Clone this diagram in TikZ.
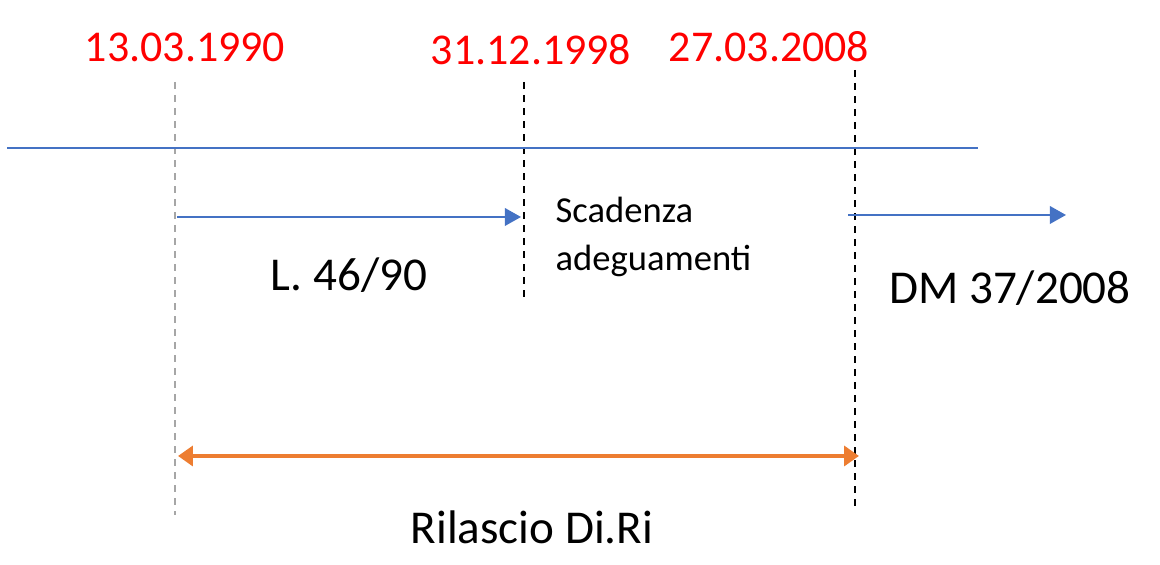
\documentclass[tikz,border=0pt]{standalone}
\usepackage{fontspec}
\setmainfont{Carlito}
\usetikzlibrary{arrows.meta}
\definecolor{blueline}{HTML}{4472C4}
\definecolor{orangeline}{HTML}{ED7D31}
\definecolor{datered}{HTML}{FF0000}

\begin{document}
\begin{tikzpicture}[x=0.01cm,y=-0.01cm,
  date/.style={text=datered,font=\fontsize{12.5}{14}\selectfont,inner sep=0pt},
  label/.style={font=\fontsize{13.4}{15}\selectfont,inner sep=0pt},
  small/.style={font=\fontsize{10.4}{13.4}\selectfont,inner sep=0pt,align=left},
  mark line/.style={line width=0.6pt,dash pattern=on 2pt off 1.7pt}]
\useasboundingbox (0,0) rectangle (1160,565);

\node[date] (d1) at (185,47) {13.03.1990};
\node[date] (d2) at (531,50) {31.12.1998};
\node[date] (d3) at (769,47) {27.03.2008};

\coordinate (t1) at (175,82);  \coordinate (b1) at (175,515);
\coordinate (t2) at (524,82);  \coordinate (b2) at (524,300);
\coordinate (t3) at (855,70);  \coordinate (b3) at (855,508);
\draw[mark line,gray!70] (t1) -- (b1);
\draw[mark line,black] (t2) -- (b2);
\draw[mark line,black] (t3) -- (b3);

\coordinate (l0) at (7,148); \coordinate (l1) at (978,148);
\draw[blueline,line width=0.6pt] (l0) -- (l1);

\coordinate (a0) at (177,217); \coordinate (a1) at (521,217);
\draw[blueline,line width=0.6pt,-{Triangle[length=4.6pt,width=5pt]}] (a0) -- (a1);
\coordinate (c0) at (848,215); \coordinate (c1) at (1066,215);
\draw[blueline,line width=0.6pt,-{Triangle[length=4.6pt,width=5pt]}] (c0) -- (c1);

\node[label] (law) at (349,275) {L. 46/90};
\node[small,anchor=west] (due) at (555,237) {Scadenza\\adeguamenti};
\node[label] (dm) at (1010,288) {DM 37/2008};

\coordinate (o0) at (178,456); \coordinate (o1) at (859,456);
\draw[orangeline,line width=1.2pt,{Triangle[length=4.2pt,width=5.6pt]}-{Triangle[length=4.2pt,width=5.6pt]}] (o0) -- (o1);
\node[label] (rel) at (532,527) {Rilascio Di.Ri};
\end{tikzpicture}
\end{document}
